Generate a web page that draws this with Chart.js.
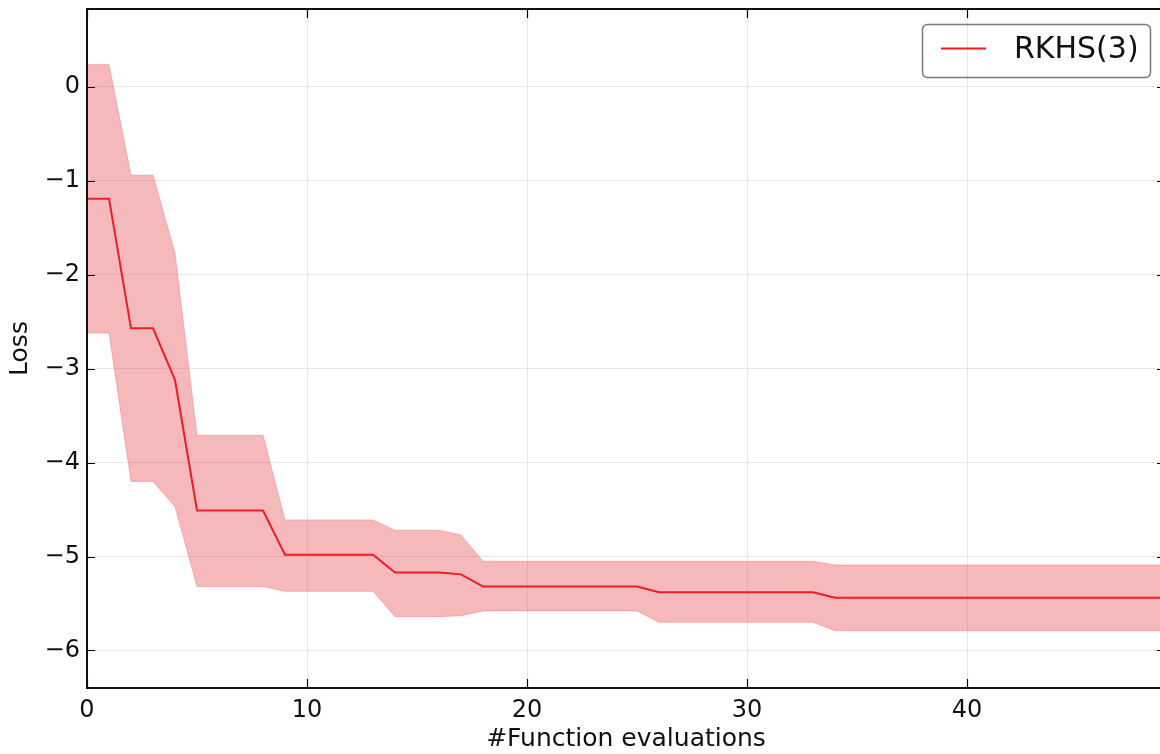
<!DOCTYPE html>
<html><head><meta charset="utf-8">
<script src="https://cdn.jsdelivr.net/npm/chart.js@4.4.0/dist/chart.umd.min.js"></script>
<style>html,body{margin:0;padding:0;overflow:hidden;background:#fff;width:1160px;height:754px}canvas{display:block}</style>
</head><body><canvas id="c" width="1165" height="754" style="width:1165px;height:754px"></canvas>
<script>
const evaluations = [0,1,2,3,4,5,6,7,8,9,10,11,12,13,14,15,16,17,18,19,20,21,22,23,24,25,26,27,28,29,30,31,32,33,34,35,36,37,38,39,40,41,42,43,44,45,46,47,48,49];
const meanLoss = [-1.19,-1.19,-2.57,-2.57,-3.12,-4.51,-4.51,-4.51,-4.51,-4.98,-4.98,-4.98,-4.98,-4.98,-5.17,-5.17,-5.17,-5.19,-5.32,-5.32,-5.32,-5.32,-5.32,-5.32,-5.32,-5.32,-5.38,-5.38,-5.38,-5.38,-5.38,-5.38,-5.38,-5.38,-5.44,-5.44,-5.44,-5.44,-5.44,-5.44,-5.44,-5.44,-5.44,-5.44,-5.44,-5.44,-5.44,-5.44,-5.44,-5.44];
const upperLoss = [0.24,0.24,-0.94,-0.94,-1.77,-3.71,-3.71,-3.71,-3.71,-4.61,-4.61,-4.61,-4.61,-4.61,-4.72,-4.72,-4.72,-4.77,-5.05,-5.05,-5.05,-5.05,-5.05,-5.05,-5.05,-5.05,-5.05,-5.05,-5.05,-5.05,-5.05,-5.05,-5.05,-5.05,-5.09,-5.09,-5.09,-5.09,-5.09,-5.09,-5.09,-5.09,-5.09,-5.09,-5.09,-5.09,-5.09,-5.09,-5.09,-5.09];
const lowerLoss = [-2.62,-2.62,-4.20,-4.20,-4.47,-5.32,-5.32,-5.32,-5.32,-5.37,-5.37,-5.37,-5.37,-5.37,-5.64,-5.64,-5.64,-5.63,-5.58,-5.58,-5.58,-5.58,-5.58,-5.58,-5.58,-5.58,-5.70,-5.70,-5.70,-5.70,-5.70,-5.70,-5.70,-5.70,-5.79,-5.79,-5.79,-5.79,-5.79,-5.79,-5.79,-5.79,-5.79,-5.79,-5.79,-5.79,-5.79,-5.79,-5.79,-5.79];
const xTicks = [0,10,20,30,40];
const yTicks = [-6,-5,-4,-3,-2,-1,0];
const seriesLabel = 'RKHS(3)';
const xTitle = '#Function evaluations';
const yTitle = 'Loss';

const FONT = 'DejaVu Sans';
const pts = arr => evaluations.map((x,i)=>({x:x,y:arr[i]}));

const framePlugin = {
  id:'frame',
  afterDatasetsDraw(chart){
    const {ctx, chartArea:a, scales:{x,y}} = chart;
    ctx.save();
    ctx.strokeStyle='#000'; ctx.lineWidth=1.2;
    ctx.beginPath();
    x.ticks.forEach(t=>{const px=Math.round(x.getPixelForValue(t.value))+0.5; ctx.moveTo(px,a.bottom); ctx.lineTo(px,a.bottom-9); ctx.moveTo(px,a.top); ctx.lineTo(px,a.top+9);});
    y.ticks.forEach(t=>{const py=Math.round(y.getPixelForValue(t.value))+0.5; ctx.moveTo(a.left,py); ctx.lineTo(a.left+8,py); ctx.moveTo(a.right,py); ctx.lineTo(a.right-8,py);});
    ctx.stroke();
    ctx.lineWidth=2;
    ctx.strokeStyle='#111';
    ctx.strokeRect(a.left,a.top,a.right-a.left,a.bottom-a.top);
    // legend
    ctx.lineWidth=1.5; ctx.strokeStyle='#7a7a7a';
    ctx.beginPath(); ctx.roundRect(922.5,24.5,228,53,5); ctx.stroke();
    const ds = chart.data.datasets[0];
    ctx.strokeStyle=ds.borderColor; ctx.lineWidth=2;
    ctx.beginPath(); ctx.moveTo(941,48.5); ctx.lineTo(986,48.5); ctx.stroke();
    ctx.fillStyle='#111'; ctx.font='30px "'+FONT+'"'; ctx.textAlign='left'; ctx.textBaseline='middle';
    ctx.fillText(ds.label,1014,50);
    ctx.restore();
  }
};

new Chart(document.getElementById('c'),{
  type:'line',
  data:{datasets:[
    {label:seriesLabel,data:pts(meanLoss),borderColor:'#ee1c24',borderWidth:2,pointRadius:0,tension:0,fill:false,order:0},
    {label:'lower',data:pts(lowerLoss),borderColor:'rgba(230,90,95,0.35)',borderWidth:1,pointRadius:0,tension:0,fill:false,order:2},
    {label:'upper',data:pts(upperLoss),borderColor:'rgba(230,90,95,0.35)',borderWidth:1,pointRadius:0,tension:0,fill:'-1',backgroundColor:'rgba(232,80,84,0.4)',order:1}
  ]},
  options:{
    responsive:false,animation:false,
    layout:{padding:{top:9,left:0,right:0,bottom:0}},
    plugins:{legend:{display:false},tooltip:{enabled:false}},
    scales:{
      x:{type:'linear',min:0,max:49,
        afterBuildTicks:s=>{s.ticks=xTicks.map(v=>({value:v}));},
        afterFit:s=>{s.height=66;s.paddingLeft=0;s.paddingRight=0;},
        ticks:{font:{family:FONT,size:24},color:'#111',padding:8,maxRotation:0,autoSkip:false},
        grid:{color:'#e6e6e6',drawTicks:false,lineWidth:1},
        border:{display:false},
        title:{display:true,text:xTitle,font:{family:FONT,size:25},color:'#111',padding:{top:0,bottom:0}}
      },
      y:{type:'linear',min:-6.4,max:0.83,
        afterBuildTicks:s=>{s.ticks=yTicks.map(v=>({value:v}));},
        afterFit:s=>{s.width=87;s.paddingTop=0;s.paddingBottom=0;},
        ticks:{font:{family:FONT,size:24},color:'#111',padding:7,callback:v=>String(v).replace('-','\u2212')},
        grid:{color:'#e6e6e6',drawTicks:false,lineWidth:1},
        border:{display:false},
        title:{display:true,text:yTitle,font:{family:FONT,size:25},color:'#111',padding:{top:5,bottom:0}}
      }
    }
  },
  plugins:[framePlugin]
});
</script></body></html>
